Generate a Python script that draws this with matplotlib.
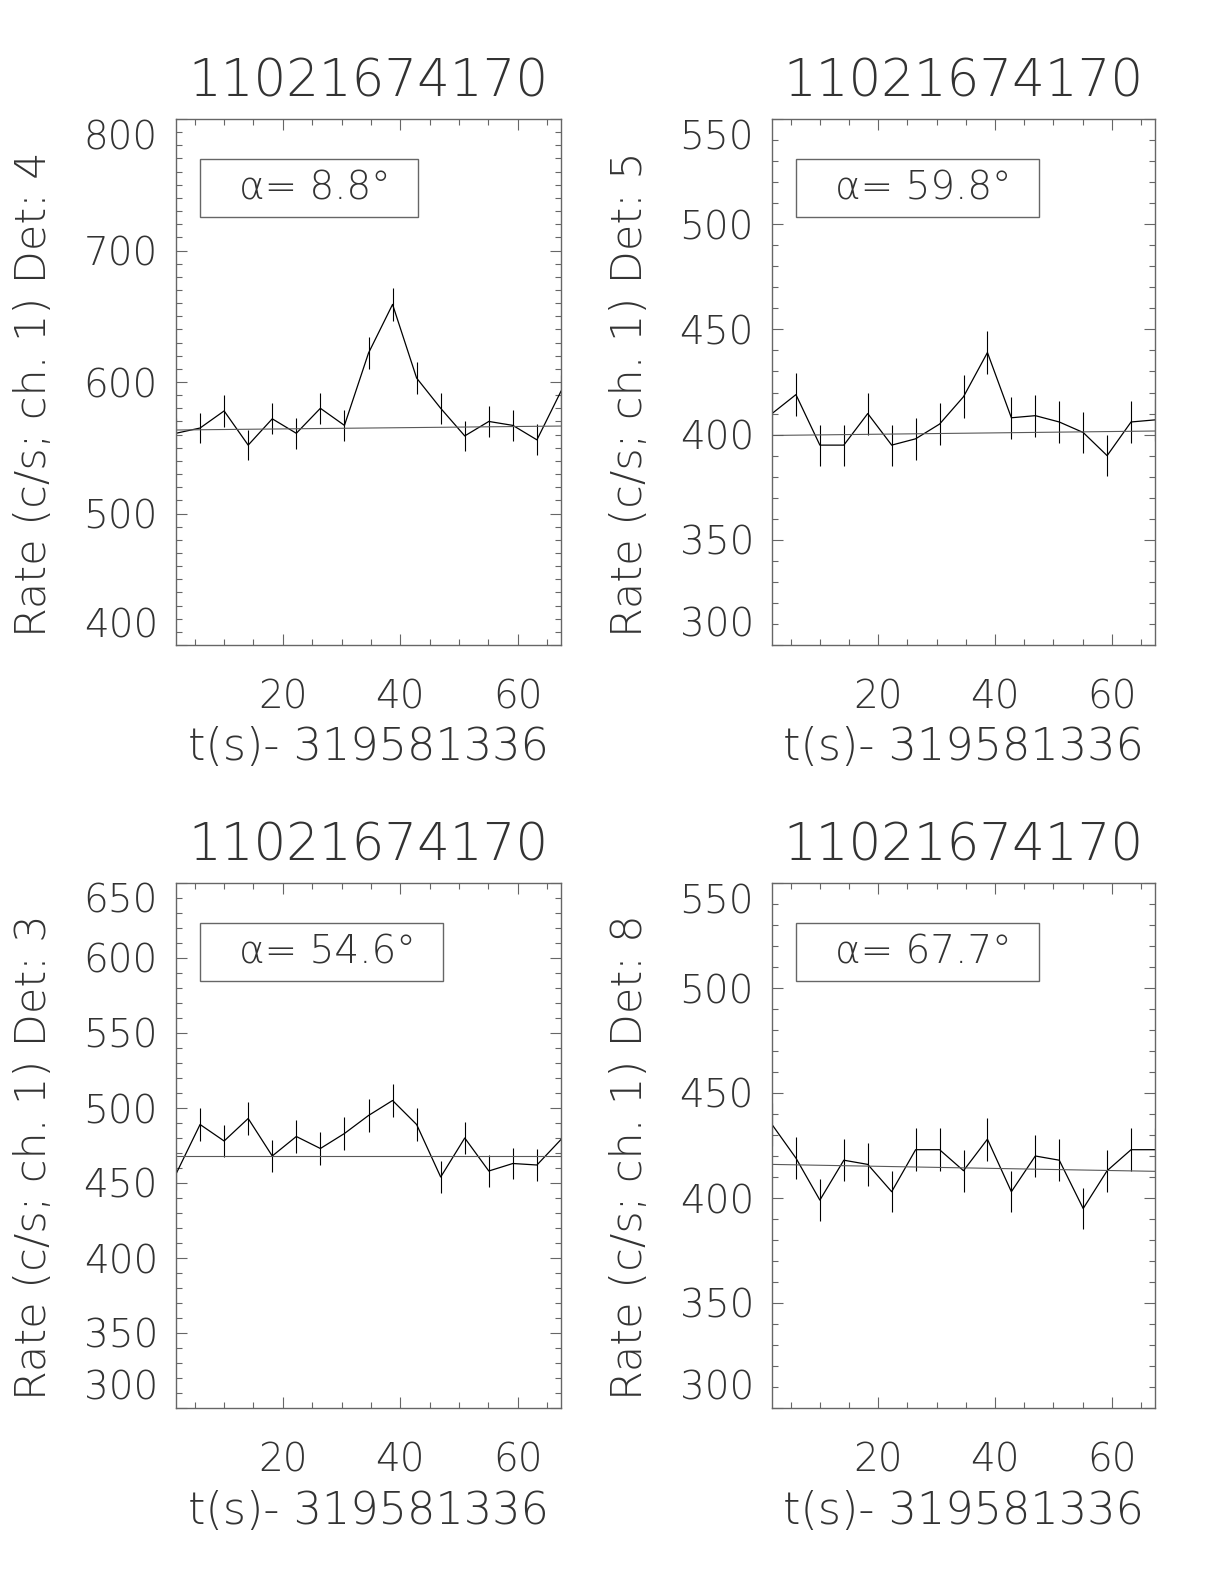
import matplotlib
matplotlib.use("Agg")
import matplotlib.pyplot as plt
from matplotlib.patches import Rectangle
from matplotlib.ticker import MultipleLocator

plt.rcParams["font.family"] = ["DejaVu Sans"]
plt.rcParams["font.weight"] = "light"

W, H = 1224, 1584

OBS_ID = "11021674170"
XLABEL = "t(s)- 319581336"

TIME = [1.8, 5.9, 10.0, 14.1, 18.2, 22.3, 26.4, 30.5, 34.6, 38.7,
        42.8, 46.9, 51.0, 55.1, 59.2, 63.3, 67.4]

DET4_RATE = [561, 565, 578, 552, 572, 561, 580, 567, 622, 659,
             603, 580, 559, 570, 567, 556, 593]
DET4_ERR = [11.7, 11.7, 11.9, 11.6, 11.8, 11.7, 11.9, 11.8, 12.3, 12.7,
            12.1, 11.9, 11.7, 11.8, 11.8, 11.7, 12.0]
DET4_BKG = [563.5, 566.5]

DET5_RATE = [410, 419, 395, 395, 410, 395, 398, 405, 418, 439,
             408, 409, 406, 401, 390, 406, 407]
DET5_ERR = [10.0, 10.1, 9.8, 9.8, 10.0, 9.8, 9.9, 9.9, 10.1, 10.4,
            10.0, 10.0, 10.0, 9.9, 9.8, 10.0, 10.0]
DET5_BKG = [399.6, 401.7]

DET3_RATE = [456, 489, 478, 493, 468, 481, 473, 483, 495, 505,
             489, 454, 480, 458, 463, 462, 479]
DET3_ERR = [10.6, 10.9, 10.8, 11.0, 10.7, 10.8, 10.7, 10.9, 11.0, 11.1,
            10.9, 10.5, 10.8, 10.6, 10.6, 10.6, 10.8]
DET3_BKG = [468.0, 468.0]

DET8_RATE = [435, 419, 399, 418, 416, 403, 423, 423, 413, 428,
             403, 420, 418, 395, 413, 423, 423]
DET8_ERR = [10.3, 10.1, 9.9, 10.1, 10.1, 9.9, 10.2, 10.2, 10.0, 10.2,
            9.9, 10.1, 10.1, 9.8, 10.0, 10.2, 10.2]
DET8_BKG = [416.0, 412.7]

PANELS = [
    # det, alpha, rate, err, bkg, yticks, axes box in pixels (l, t, r, b)
    ("4", "8.8", DET4_RATE, DET4_ERR, DET4_BKG, [400, 500, 600, 700, 800], (176, 119, 561, 645)),
    ("5", "59.8", DET5_RATE, DET5_ERR, DET5_BKG, [300, 350, 400, 450, 500, 550], (772, 119, 1155, 645)),
    ("3", "54.6", DET3_RATE, DET3_ERR, DET3_BKG, [300, 350, 400, 450, 500, 550, 600, 650], (176, 883, 561, 1408)),
    ("8", "67.7", DET8_RATE, DET8_ERR, DET8_BKG, [300, 350, 400, 450, 500, 550], (772, 883, 1155, 1408)),
]

TXT = "0.2"
AXC = "0.4"

fig = plt.figure(figsize=(W / 100, H / 100), dpi=100)
renderer = fig.canvas.get_renderer()

for det, alpha, rate, err, bkg, yticks, (l, t, r, b) in PANELS:
    ax = fig.add_axes([l / W, 1 - b / H, (r - l) / W, (b - t) / H])
    ax.plot(TIME, rate, color="black", lw=0.9)
    ax.errorbar(TIME, rate, yerr=err, fmt="none", ecolor="black", elinewidth=0.8, capsize=0)
    ax.plot([TIME[0], TIME[-1]], bkg, color="0.35", lw=0.8)

    ax.set_xlim(TIME[0], TIME[-1])
    ax.set_ylim(yticks[0], yticks[-1])
    ax.set_xticks([20, 40, 60])
    ax.set_yticks(yticks)
    ax.xaxis.set_minor_locator(MultipleLocator(5))
    ax.yaxis.set_minor_locator(MultipleLocator(10))
    ax.tick_params(which="both", direction="in", top=True, right=True,
                   color=AXC, width=0.8, labelcolor=TXT)
    ax.tick_params(which="major", length=8)
    ax.tick_params(which="minor", length=4)
    ax.tick_params(axis="x", labelsize=28, pad=24)
    ax.tick_params(axis="y", labelsize=28, pad=13)
    ylabs = ax.get_yticklabels()
    ylabs[0].set_verticalalignment("bottom")
    ylabs[-1].set_verticalalignment("top")
    for s in ax.spines.values():
        s.set_color(AXC)
        s.set_linewidth(1.0)

    # alpha label in a box: box starts 24 px inside the axis, text 39 px in
    ty = t + 69
    txt = fig.text((l + 63) / W, 1 - ty / H, f"α= {alpha}°",
                   fontsize=28, color=TXT, va="center", ha="left")
    ext = txt.get_window_extent(renderer)
    box_r = ext.x1 + 27
    fig.add_artist(Rectangle(((l + 24) / W, 1 - (ty + 29) / H), (box_r - l - 24) / W, 58 / H,
                             transform=fig.transFigure, fill=False, ec=AXC, lw=1.0))

    cx = (l + r) / 2
    fig.text(cx / W, 1 - (t - 37) / H, OBS_ID, fontsize=37, color=TXT, ha="center", va="center")
    fig.text(cx / W, 1 - (b + 103) / H, XLABEL, fontsize=32, color=TXT, ha="center", va="center")
    fig.text((l - 142) / W, 1 - ((t + b) / 2 + 12) / H, f"Rate (c/s; ch. 1) Det: {det}",
             fontsize=31, color=TXT, ha="center", va="center", rotation=90)

fig.savefig("out.png", dpi=100)
